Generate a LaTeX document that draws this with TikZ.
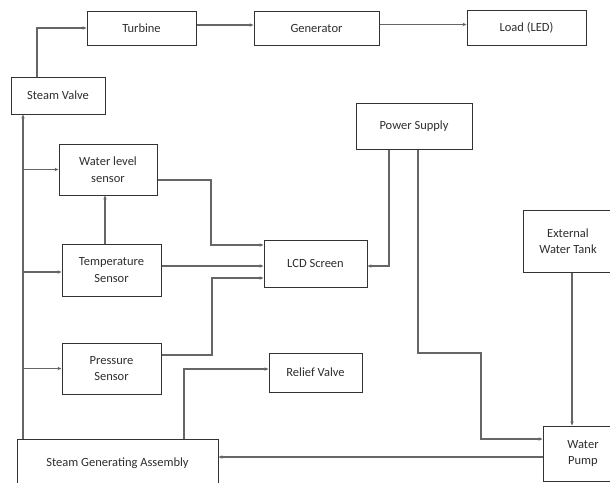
\documentclass[tikz,border=0pt]{standalone}
\usepackage{fontspec}
\setmainfont{Carlito}
\usetikzlibrary{arrows.meta}
\definecolor{boxc}{HTML}{333333}
\definecolor{linec}{HTML}{666666}
\definecolor{txtc}{HTML}{2E2E2E}
\begin{document}
\begin{tikzpicture}[x=1pt,y=-1pt,
  box/.style={draw=boxc,line width=1pt,rectangle,inner sep=0pt,align=center,text=txtc,
    font=\fontsize{12.5}{16.5}\selectfont},
  arr/.style={draw=linec,line width=1.1pt,-{Stealth[length=4pt,width=3.4pt]}}]
\useasboundingbox (0,0) rectangle (610,482);
\clip (0,0) rectangle (610,482);
\fill[white] (0,0) rectangle (610,482);
% boxes
\node[box,minimum width=109pt,minimum height=34pt] (turb) at (141.5,28) {Turbine};
\node[box,minimum width=125pt,minimum height=34pt] (gen) at (316.5,28) {Generator};
\node[box,minimum width=119pt,minimum height=35pt] (load) at (526.5,27.5) {Load (LED)};
\node[box,minimum width=94pt,minimum height=37pt] (sv) at (58,95.5) {Steam Valve};
\node[box,minimum width=116pt,minimum height=46pt] (ps) at (414,126) {Power Supply};
\node[box,minimum width=98pt,minimum height=51pt] (wl) at (108,169.5) {Water level\\sensor};
\node[box,minimum width=99pt,minimum height=52pt] (temp) at (111.5,270) {Temperature\\Sensor};
\node[box,minimum width=103pt,minimum height=47pt] (lcd) at (315.5,263.5) {LCD Screen};
\node[box,minimum width=90pt,minimum height=62pt] (ewt) at (568,241) {External\\Water Tank};
\node[box,minimum width=99pt,minimum height=51pt] (press) at (111.5,368.5) {Pressure\\Sensor};
\node[box,minimum width=93pt,minimum height=39pt] (rv) at (315.5,372.5) {Relief Valve};
\node[box,minimum width=201pt,minimum height=48pt] (sga) at (117.5,463) {Steam Generating Assembly};
\node[box,minimum width=80pt,minimum height=55pt] (wp) at (583,453.5) {Water\\Pump};
% helper coordinates
\coordinate (tr) at ([xshift=-94.5pt]sga.north);
\coordinate (c1) at (481,353);
\coordinate (c2) at (211,245);
\coordinate (c3) at (212,278);
% connectors
\draw[arr] ([xshift=-21pt]sv.north) |- (turb.west);
\draw[arr] ([yshift=3pt]turb.east) -- ([yshift=3pt]gen.west);
\draw[arr] ([yshift=3.5pt]gen.east) -- ([yshift=3.5pt]gen.east -| load.west);
\draw[arr] ([xshift=-25pt]ps.south) |- ([yshift=-2.5pt]lcd.east);
\draw[arr] ([xshift=4pt]ps.south) |- (c1) |- ([yshift=14.5pt]wp.west);
\draw[arr] ([xshift=4pt]ewt.south) -- ([xshift=4pt]ewt.south |- wp.north);
\draw[arr] ([yshift=-10.5pt]wl.east) -| (c2) -- ([yshift=18.5pt]lcd.west);
\draw[arr] ([xshift=-6.5pt]temp.north) -- ([xshift=-6.5pt]temp.north |- wl.south);
\draw[arr] ([yshift=4pt]temp.east) -- ([yshift=4pt]temp.east -| lcd.west);
\draw[arr] ([yshift=13.5pt]press.east) -| (c3) -- ([yshift=-14.5pt]lcd.west);
\draw[arr] (tr) -- (tr |- sv.south);
\draw[arr] (tr |- wl.west) -- (wl.west);
\draw[arr] ([yshift=-2pt]tr |- temp.west) -- ([yshift=-2pt]temp.west);
\draw[arr] (tr |- press.west) -- (press.west);
\draw[arr] ([xshift=66.5pt]sga.north) |- ([yshift=3.5pt]rv.west);
\draw[arr] ([yshift=-3.5pt]wp.west) -- ([yshift=-3.5pt]wp.west -| sga.east);
\end{tikzpicture}
\end{document}
